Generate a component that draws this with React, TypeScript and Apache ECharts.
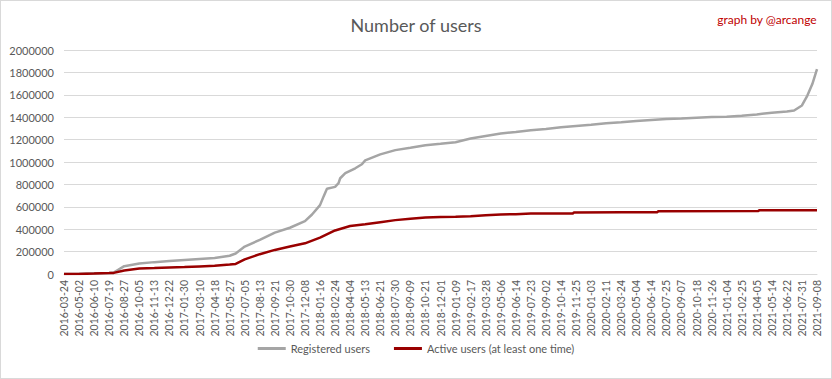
import React, { useEffect, useRef } from "react";
import * as echarts from "echarts";

// Tick labels of the category-like date axis (one every 39 days of data)
const dateLabels = [
  "2016-03-24", "2016-05-02", "2016-06-10", "2016-07-19", "2016-08-27", "2016-10-05", "2016-11-13", "2016-12-22",
  "2017-01-30", "2017-03-10", "2017-04-18", "2017-05-27", "2017-07-05", "2017-08-13", "2017-09-21", "2017-10-30", "2017-12-08",
  "2018-01-16", "2018-02-24", "2018-04-04", "2018-05-13", "2018-06-21", "2018-07-30", "2018-09-09", "2018-10-21", "2018-12-01",
  "2019-01-09", "2019-02-17", "2019-03-28", "2019-05-06", "2019-06-14", "2019-07-23", "2019-09-02", "2019-10-14", "2019-11-25",
  "2020-01-03", "2020-02-11", "2020-03-24", "2020-05-04", "2020-06-14", "2020-07-25", "2020-09-07", "2020-10-18", "2020-11-26",
  "2021-01-04", "2021-02-25", "2021-04-05", "2021-05-14", "2021-06-22", "2021-07-31", "2021-09-08",
];

// [position on the date axis (label index), users]
const registeredUsers: [number, number][] = [
  [0, 0], [1, 2000], [2, 7000], [3, 10000], [3.3, 13000], [4, 70000], [5, 94000], [6, 106000], [7, 115000],
  [8, 124000], [9, 133000], [10, 142000], [11, 163000], [11.4, 183000], [12, 245000], [13, 304000],
  [14, 369000], [15, 413000], [16, 472000], [16.47, 531000], [17, 615000], [17.24, 693000], [17.46, 761000],
  [18, 778000], [18.23, 811000], [18.34, 855000], [18.68, 900000], [19.34, 944000], [19.78, 980000],
  [20, 1015000], [21, 1068000], [22, 1106000], [23, 1127000], [24, 1150000], [25, 1162000], [26, 1177000],
  [27, 1210000], [28, 1233000], [29, 1254000], [30, 1268000], [31, 1283000], [32, 1295000], [33, 1310000],
  [34, 1322000], [35, 1333000], [36, 1345000], [37, 1355000], [38, 1366000], [39, 1375000], [40, 1384000],
  [41, 1389000], [42, 1395000], [43, 1401000], [44, 1404000], [45, 1413000], [46, 1425000], [47, 1440000],
  [48, 1451000], [48.48, 1460000], [49, 1505000], [49.36, 1593000], [49.69, 1696000], [50, 1829000],
];

const activeUsers: [number, number][] = [
  [0, 0], [1, 1000], [2, 4000], [3, 8000], [3.3, 10000], [4, 32000], [5, 50000], [6, 53000], [7, 59000],
  [8, 62000], [9, 68000], [10, 74000], [11, 85000], [11.4, 90000], [12, 130000], [13, 177000], [14, 215000],
  [15, 245000], [16, 274000], [17, 325000], [18, 389000], [19, 428000], [20, 445000], [21, 463000],
  [22, 481000], [23, 493000], [24, 504000], [25, 508000], [26, 511000], [27, 516000], [28, 525000],
  [29, 531000], [30, 534000], [31, 540000], [33.8, 541000], [33.85, 549000], [37, 551000], [39.4, 552000],
  [39.45, 561000], [46.1, 562000], [46.15, 569000], [50, 570000],
];

const yTicks = { min: 0, max: 2000000, step: 200000 };

const FONT = "Lato";

export default function App() {
  const ref = useRef<HTMLDivElement>(null);
  useEffect(() => {
    if (!ref.current) return;
    const chart = echarts.init(ref.current, null, { renderer: "svg" });
    chart.setOption({
      animation: false,
      backgroundColor: "#ffffff",
      textStyle: { fontFamily: FONT },
      title: [
        {
          text: "Number of users",
          left: "center",
          top: 10,
          textStyle: { fontFamily: FONT, fontSize: 18, fontWeight: "normal", color: "#595959" },
        },
        {
          text: "graph by @arcange",
          right: 9,
          top: 7,
          textStyle: { fontFamily: FONT, fontSize: 12, fontWeight: "normal", color: "#c00000" },
        },
      ],
      legend: {
        bottom: 19,
        left: "center",
        icon: "rect",
        itemWidth: 28,
        itemHeight: 3,
        itemGap: 24,
        textStyle: { fontFamily: FONT, fontSize: 11, color: "#595959" },
        data: ["Registered users", "Active users (at least one time)"],
      },
      grid: { left: 63, right: 14, top: 49, bottom: 104 },
      xAxis: {
        type: "value",
        min: 0,
        max: dateLabels.length - 1,
        interval: 1,
        axisLine: { show: true, lineStyle: { color: "#d9d9d9" } },
        axisTick: { show: false },
        splitLine: { show: false },
        axisLabel: {
          rotate: 90,
          margin: 6,
          fontFamily: FONT,
          fontSize: 10.5,
          color: "#595959",
          formatter: (v: number) => dateLabels[Math.round(v)] ?? "",
        },
      },
      yAxis: {
        type: "value",
        min: yTicks.min,
        max: yTicks.max,
        interval: yTicks.step,
        axisLine: { show: false },
        axisTick: { show: false },
        splitLine: { lineStyle: { color: "#d9d9d9", width: 1 } },
        axisLabel: {
          margin: 10,
          fontFamily: FONT,
          fontSize: 11,
          color: "#595959",
          formatter: (v: number) => String(v),
        },
      },
      series: [
        {
          name: "Registered users",
          type: "line",
          data: registeredUsers,
          symbol: "none",
          lineStyle: { color: "#a5a5a5", width: 2.5 },
          itemStyle: { color: "#a5a5a5" },
        },
        {
          name: "Active users (at least one time)",
          type: "line",
          data: activeUsers,
          symbol: "none",
          lineStyle: { color: "#990000", width: 2.5 },
          itemStyle: { color: "#990000" },
        },
      ],
    });
    return () => chart.dispose();
  }, []);
  return (
    <div
      style={{
        position: "absolute",
        left: 0,
        top: 0,
        width: 830,
        height: 377,
        border: "1px solid #d9d9d9",
        background: "#fff",
      }}
    >
      <div ref={ref} style={{ width: 830, height: 377 }} />
    </div>
  );
}
